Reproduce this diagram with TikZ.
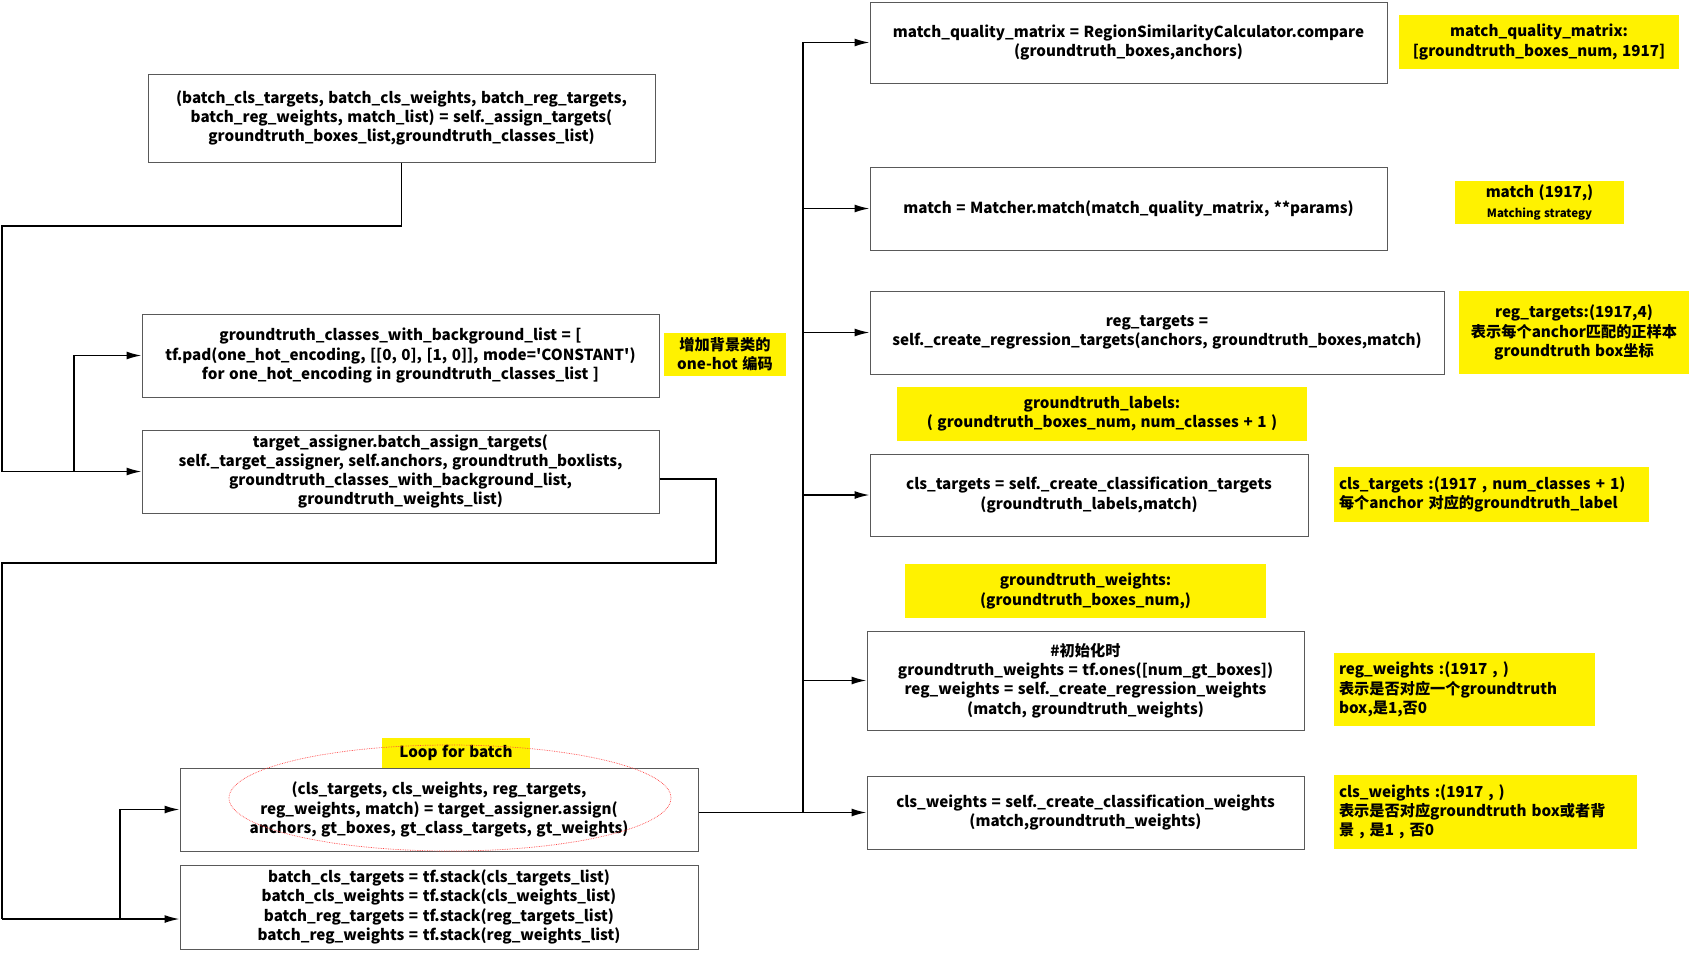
\documentclass[tikz,border=0pt]{standalone}
\usepackage{fontspec}
\newfontfamily\cjk{Noto Sans CJK SC}[WordSpace={1.3,0.6,0.3}]
\usetikzlibrary{arrows.meta,shapes.geometric}
\begin{document}
\begin{tikzpicture}[x=1pt,y=-1pt,
  font=\cjk\bfseries\fontsize{15.2}{19.2}\selectfont,
  box/.style={draw=black!65, line width=1pt, fill=white, align=center, inner sep=2pt},
  note/.style={fill=yellow, align=center, inner sep=2pt},
  notel/.style={fill=yellow, align=left, inner sep=5pt, text width=#1},
  wire/.style={line width=1.6pt, black},
  arr/.style={wire, -{Latex[length=15pt,width=8pt]}},
]
\useasboundingbox (0,0) rectangle (1691,953);

% left column
\node[box, minimum width=507, minimum height=88] (A) at (401.5,118)
 {(batch\_cls\_targets, batch\_cls\_weights, batch\_reg\_targets,\\
  batch\_reg\_weights, match\_list) = self.\_assign\_targets(\\
  groundtruth\_boxes\_list,groundtruth\_classes\_list)};
\node[box, minimum width=517, minimum height=83] (B) at (400.5,355.5)
 {groundtruth\_classes\_with\_background\_list = [\\
  tf.pad(one\_hot\_encoding, [[0, 0], [1, 0]], mode='CONSTANT')\\
  for one\_hot\_encoding in groundtruth\_classes\_list ]};
\node[note, minimum width=122, minimum height=43] (BL) at (725,354.5)
 {增加背景类的\\one-hot 编码};
\node[box, minimum width=517, minimum height=83] (C) at (400.5,471.5)
 {target\_assigner.batch\_assign\_targets(\\
  self.\_target\_assigner, self.anchors, groundtruth\_boxlists,\\
  groundtruth\_classes\_with\_background\_list,\\
  groundtruth\_weights\_list)};
\node[box, minimum width=518, minimum height=83] (E) at (439,809.5)
 {(cls\_targets, cls\_weights, reg\_targets,\\
  reg\_weights, match) = target\_assigner.assign(\\
  anchors, gt\_boxes, gt\_class\_targets, gt\_weights)};
\node[box, minimum width=518, minimum height=84] (F) at (439,907)
 {batch\_cls\_targets = tf.stack(cls\_targets\_list)\\
  batch\_cls\_weights = tf.stack(cls\_weights\_list)\\
  batch\_reg\_targets = tf.stack(reg\_targets\_list)\\
  batch\_reg\_weights = tf.stack(reg\_weights\_list)};
\node[note, minimum width=148, minimum height=30] (LB) at (456,753) {Loop for batch};
\node[ellipse, draw=red!75, densely dotted, line width=0.7pt, minimum width=442, minimum height=106, inner sep=0] (ring) at (450,798) {};

% right column
\node[box, minimum width=517, minimum height=81] (R1) at (1128.5,42.5)
 {match\_quality\_matrix = RegionSimilarityCalculator.compare\\
  (groundtruth\_boxes,anchors)};
\node[note, minimum width=280, minimum height=54] (R1L) at (1539,42)
 {match\_quality\_matrix:\\{}[groundtruth\_boxes\_num, 1917]};
\node[box, minimum width=517, minimum height=83] (R2) at (1128.5,208.5)
 {match = Matcher.match(match\_quality\_matrix, **params)};
\node[note, minimum width=169, minimum height=43] (R2L) at (1539.5,202.5)
 {match (1917,)\\{\fontsize{11.5}{14}\selectfont Matching strategy}};
\node[box, minimum width=574, minimum height=83] (R3) at (1157,332.5)
 {reg\_targets =\\
  self.\_create\_regression\_targets(anchors, groundtruth\_boxes,match)};
\node[note, minimum width=230, minimum height=83] (R3L) at (1574,332.5)
 {reg\_targets:(1917,4)\\表示每个anchor匹配的正样本\\groundtruth box坐标};
\node[note, minimum width=410, minimum height=54] (GL) at (1102,414)
 {groundtruth\_labels:\\( groundtruth\_boxes\_num, num\_classes + 1 )};
\node[box, minimum width=438, minimum height=82] (R4) at (1089,495)
 {cls\_targets = self.\_create\_classification\_targets\\
  (groundtruth\_labels,match)};
\node[notel=305pt, minimum height=55] (R4L) at (1491.5,494.5)
 {cls\_targets :(1917 , num\_classes + 1)\\每个anchor 对应的groundtruth\_label};
\node[note, minimum width=361, minimum height=54] (GW) at (1085.5,591)
 {groundtruth\_weights:\\(groundtruth\_boxes\_num,)};
\node[box, minimum width=437, minimum height=99] (R5) at (1085.5,680.5)
 {\#初始化时\\
  groundtruth\_weights = tf.ones([num\_gt\_boxes])\\
  reg\_weights = self.\_create\_regression\_weights\\
  (match, groundtruth\_weights)};
\node[notel=251pt, minimum height=73] (R5L) at (1464.5,689.5)
 {reg\_weights :(1917 , )\\表示是否对应一个groundtruth\\box,是1,否0};
\node[box, minimum width=437, minimum height=73] (R6) at (1085.5,812.5)
 {cls\_weights = self.\_create\_classification\_weights\\
  (match,groundtruth\_weights)};
\node[notel=293pt, minimum height=74] (R6L) at (1485.5,812)
 {cls\_weights :(1917 , )\\表示是否对应groundtruth box或者背\\景 , 是1 , 否0};

% connectors: top loop
\coordinate (j1) at (2,226);
\coordinate (j2) at (74,471.5);
\draw[arr] (A.south) -- (A.south |- j1) -- (j1) -- (j1 |- C.west) -- (C.west);
\draw[arr] (j2) |- (B.west);

% connectors: bottom loop
\coordinate (k1) at (716,563);
\coordinate (k2) at (2,919);
\coordinate (k3) at (120,919);
\draw[wire, line width=2.2pt] ([yshift=-7.5pt]C.east) -| (k1) -- (k1 -| k2) -- (k2);
\draw[arr] (k2) -- ([yshift=-12pt]F.west);
\draw[arr] (k3) |- (E.west);

% right trunk
\coordinate (t) at (803,812.5);
\draw[arr] (E.east |- R6.west) -- (R6.west);
\draw[arr] (t) |- (R1.west);
\draw[arr] (t) |- (R2.west);
\draw[arr] (t) |- (R3.west);
\draw[arr] (t) |- (R4.west);
\draw[arr] (t) |- (R5.west);
\end{tikzpicture}
\end{document}
